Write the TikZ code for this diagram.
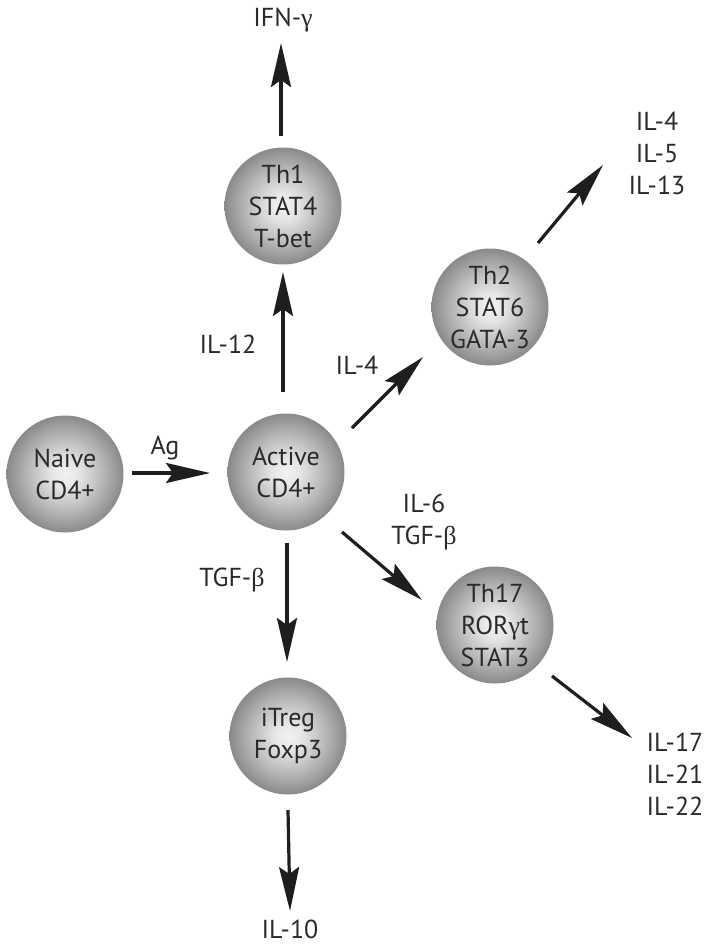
\documentclass[tikz,border=0pt]{standalone}
\usepackage{fontspec}
\setmainfont{PT Sans}
\newfontfamily\grk{Liberation Serif}
\usetikzlibrary{arrows.meta,calc}
\definecolor{txt}{HTML}{2A2A2A}
\definecolor{arrc}{HTML}{1E1E1E}
\newcommand\cellfont{\fontsize{26}{32}\selectfont}
\newcommand\gam{{\grk γ}}
\newcommand\bet{{\grk β}}
\pgfdeclareradialshading{cellshade}{\pgfpoint{0bp}{0bp}}{%
  color(0bp)=(black!5); color(6bp)=(black!10); color(16bp)=(black!28);
  color(25bp)=(black!46); color(50bp)=(black!46)}
\begin{document}
\begin{tikzpicture}[x=1pt,y=-1pt,
  cell/.style={circle, minimum size=117pt, inner sep=0pt, align=center,
    shading=cellshade, shade, text=txt, font=\cellfont},
  lbl/.style={align=center, text=txt, font=\cellfont, inner sep=0pt},
  arr/.style={line width=3.2pt, draw=arrc, -{Stealth[length=44pt,width=20pt,inset=7pt]}}]
\useasboundingbox (0,0) rectangle (704,946);
% cells
\node[cell] (naive)  at (65,474)  {Naive\\CD4+};
\node[cell] (active) at (286,472) {Active\\CD4+};
\node[cell] (th1)    at (283,206) {Th1\\STAT4\\T-bet};
\node[cell] (th2)    at (490,307) {Th2\\STAT6\\GATA-3};
\node[cell] (th17)   at (495,625) {Th17\\ROR\gam t\\STAT3};
\node[cell] (itreg)  at (288,736) {iTreg\\Foxp3};
% output labels
\node[lbl] (ifn)  at (283,20)  {IFN-\gam};
\node[lbl] (il4513) at (657,153) {IL-4\\IL-5\\IL-13};
\node[lbl] (il172122) at (675,774) {IL-17\\IL-21\\IL-22};
\node[lbl] (il10) at (290,929) {IL-10};
% cytokine labels on arrows
\node[lbl] (ag)   at (165,448) {Ag};
\node[lbl] (il12) at (228,344) {IL-12};
\node[lbl] (il4)  at (357,365) {IL-4};
\node[lbl] (il6)  at (424,522) {IL-6\\TGF-\bet};
\node[lbl] (tgfb) at (232,580) {TGF-\bet};
% arrow end points
\coordinate (agS) at (132,473);  \coordinate (agE) at (210,473);
\coordinate (t1S) at (283,392);  \coordinate (t1E) at (283,272);
\coordinate (ifS) at (281,136);  \coordinate (ifE) at (281,43);
\coordinate (t2S) at (352,428);  \coordinate (t2E) at (423,357);
\coordinate (o2S) at (538,243);  \coordinate (o2E) at (603,165);
\coordinate (t17S) at (342,532); \coordinate (t17E) at (422,600);
\coordinate (o17S) at (552,676); \coordinate (o17E) at (632,738);
\coordinate (trS) at (287,543);  \coordinate (trE) at (287,662);
\coordinate (o10S) at (288,810); \coordinate (o10E) at (290,911);
% arrows
\draw[arr] (agS) -- (agE);
\draw[arr] (t1S) -- (t1E);
\draw[arr] (ifS) -- (ifE);
\draw[arr] (t2S) -- (t2E);
\draw[arr] (o2S) -- (o2E);
\draw[arr] (t17S) -- (t17E);
\draw[arr] (o17S) -- (o17E);
\draw[arr] (trS) -- (trE);
\draw[arr] (o10S) -- (o10E);
\end{tikzpicture}
\end{document}
